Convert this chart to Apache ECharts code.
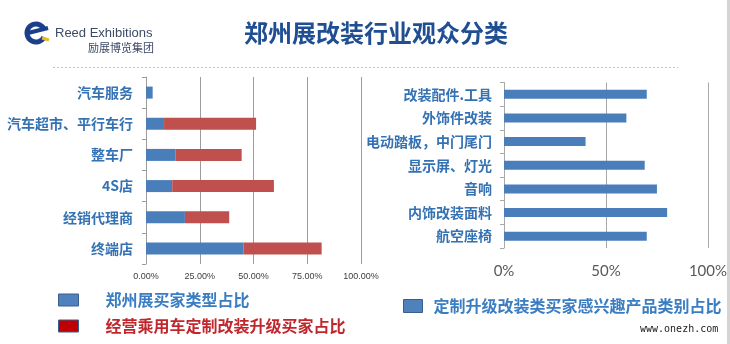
<!DOCTYPE html>
<html><head><meta charset="utf-8">
<script src="https://cdn.jsdelivr.net/npm/echarts@6/dist/echarts.min.js"></script>
<style>html,body{margin:0;padding:0;background:#fff}#c{width:730px;height:344px}</style>
</head><body><div id="c"></div>
<script>
const leftCategories = ['汽车服务', '汽车超市、平行车行', '整车厂', '4S店', '经销代理商', '终端店'];
const leftBlue = [3.1, 8.4, 13.8, 12.2, 18.1, 45.3];
const leftRed = [0, 42.8, 30.7, 47.3, 20.6, 36.4];
const leftTicks = [0, 25, 50, 75, 100];
const rightCategories = ['改装配件.工具', '外饰件改装', '电动踏板，中门尾门', '显示屏、灯光', '音响', '内饰改装面料', '航空座椅'];
const rightValues = [70, 60, 40, 69, 75, 80, 70];
const rightTicks = [0, 50, 100];
const seriesNames = ['郑州展买家类型占比', '经营乘用车定制改装升级买家占比', '定制升级改装类买家感兴趣产品类别占比'];
const title = '郑州展改装行业观众分类';

const CJK = '"Noto Sans CJK SC", sans-serif';
const chart = echarts.init(document.getElementById('c'));
chart.setOption({
  backgroundColor: '#ffffff',
  animation: false,
  grid: [
    {left: 146, top: 77, width: 215, height: 187},
    {left: 504, top: 82.5, width: 207, height: 165.5}
  ],
  xAxis: [
    {gridIndex: 0, type: 'value', min: leftTicks[0], max: leftTicks[leftTicks.length-1], interval: 25,
     axisLine: {show: false}, axisTick: {show: false},
     splitLine: {show: true, lineStyle: {color: '#9c9c9c', width: 1}},
     axisLabel: {fontSize: 9, color: '#404040', margin: 8, fontFamily: 'Liberation Sans',
       formatter: v => v.toFixed(2) + '%'}},
    {gridIndex: 1, type: 'value', min: rightTicks[0], max: rightTicks[rightTicks.length-1], interval: 50,
     axisLine: {show: false}, axisTick: {show: false},
     splitLine: {show: true, lineStyle: {color: '#a8a8a8', width: 1}},
     axisLabel: {fontSize: 15, color: '#595959', margin: 16, fontFamily: 'Lato',
       formatter: v => v + '%'}}
  ],
  yAxis: [
    {gridIndex: 0, type: 'category', data: leftCategories, inverse: true,
     axisLine: {show: true, lineStyle: {color: '#9c9c9c'}},
     axisTick: {show: true, length: 4, lineStyle: {color: '#9c9c9c'}},
     axisLabel: {fontSize: 14, fontWeight: 'bold', color: '#3472b4', margin: 13, fontFamily: CJK}},
    {gridIndex: 1, type: 'category', data: rightCategories, inverse: true,
     axisLine: {show: true, lineStyle: {color: '#a8a8a8'}},
     axisTick: {show: true, length: 4, lineStyle: {color: '#a8a8a8'}},
     axisLabel: {fontSize: 14, fontWeight: 'bold', color: '#3472b4', margin: 12, fontFamily: CJK}}
  ],
  legend: [
    {left: 53, top: 286.5, orient: 'vertical', itemWidth: 20, itemHeight: 12, itemGap: 9,
     icon: 'rect',
     textStyle: {fontSize: 16, lineHeight: 17, fontWeight: 'bold', fontFamily: CJK, padding: [0, 0, 0, 22]},
     data: [
       {name: seriesNames[0], textStyle: {color: '#3a7dc2'}, itemStyle: {color: '#4f81bd', borderColor: '#3a5f8c', borderWidth: 1}},
       {name: seriesNames[1], textStyle: {color: '#c0272d'}, itemStyle: {color: '#c00000', borderColor: '#3a5f8c', borderWidth: 1}}
     ]},
    {left: 398, top: 292.5, orient: 'vertical', itemWidth: 19, itemHeight: 13,
     icon: 'rect',
     textStyle: {fontSize: 16, lineHeight: 17, fontWeight: 'bold', fontFamily: CJK, padding: [0, 0, 0, 6]},
     data: [
       {name: seriesNames[2], textStyle: {color: '#3a7dc2'}, itemStyle: {color: '#4f81bd', borderColor: '#3a5f8c', borderWidth: 1}}
     ]}
  ],
  series: [
    {name: seriesNames[0], type: 'bar', stack: 'a', xAxisIndex: 0, yAxisIndex: 0, barWidth: 12,
     data: leftBlue, itemStyle: {color: '#4a7ebb'}},
    {name: seriesNames[1], type: 'bar', stack: 'a', xAxisIndex: 0, yAxisIndex: 0, barWidth: 12,
     data: leftRed, itemStyle: {color: '#c0504d'}},
    {name: seriesNames[2], type: 'bar', xAxisIndex: 1, yAxisIndex: 1, barWidth: 9,
     data: rightValues, itemStyle: {color: '#4a7ebb'}}
  ],
  graphic: [
    {type: 'text', x: 376, y: 33, style: {text: title, fontSize: 24, fontWeight: 'bold', fontFamily: CJK,
      fill: '#1f4e93', align: 'center', verticalAlign: 'middle'}},
    {type: 'line', shape: {x1: 53, y1: 67.5, x2: 678, y2: 67.5}, style: {stroke: '#b8c4d6', lineWidth: 1, lineDash: [2, 2]}},
    {type: 'rect', shape: {x: 727, y: 0, width: 3, height: 344}, style: {fill: '#d4d4d4'}},
    {type: 'arc', shape: {cx: 36, cy: 33, r: 9, startAngle: Math.PI * 0.15, endAngle: Math.PI * 1.85},
     style: {stroke: '#1b3f8b', lineWidth: 5, fill: null}},
    {type: 'line', shape: {x1: 28, y1: 33, x2: 48, y2: 28}, style: {stroke: '#1b3f8b', lineWidth: 4}},
    {type: 'line', shape: {x1: 42, y1: 38, x2: 49, y2: 40}, style: {stroke: '#e8b923', lineWidth: 3}},
    {type: 'text', x: 55, y: 33, style: {text: 'Reed Exhibitions', fontSize: 13, fontFamily: 'Liberation Sans',
      fill: '#3c4a66', verticalAlign: 'middle'}},
    {type: 'text', x: 88, y: 47.5, style: {text: '励展博览集团', fontSize: 11, fontFamily: CJK,
      fill: '#3c4a66', verticalAlign: 'middle'}},
    {type: 'text', x: 640, y: 329, style: {text: 'www.onezh.com', fontSize: 10, fontFamily: 'DejaVu Sans Mono',
      fill: '#222222', verticalAlign: 'middle'}}
  ]
});
</script></body></html>
